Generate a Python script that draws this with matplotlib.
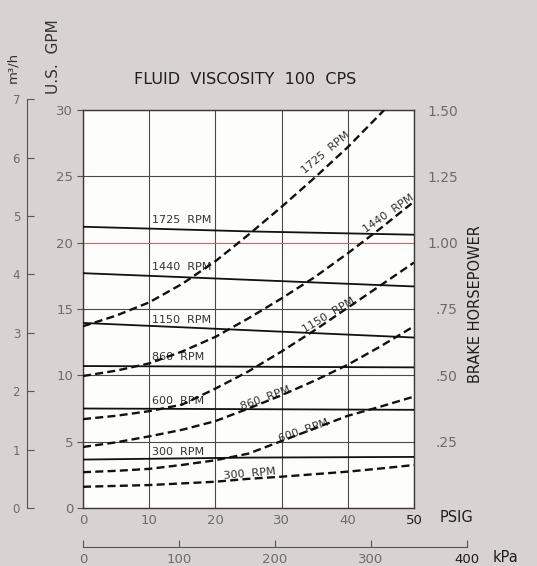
import matplotlib

matplotlib.use("Agg")
import matplotlib.pyplot as plt

GPM_PER_M3H = 4.4029
KPA_PER_PSI = 6.89476

# solid lines: capacity (U.S. GPM) vs pressure
flow_psig = [0, 25, 50]
flow_rpm = ["1725", "1440", "1150", "860", "600", "300"]
flow_1725 = [21.2, 20.85, 20.6]
flow_1440 = [17.7, 17.2, 16.7]
flow_1150 = [13.95, 13.4, 12.85]
flow_860 = [10.7, 10.65, 10.6]
flow_600 = [7.5, 7.45, 7.4]
flow_300 = [3.65, 3.8, 3.85]

# dashed lines: brake horsepower vs pressure
hp_psig = [0, 5, 10, 15, 20, 25, 30, 35, 40, 45, 50]
hp_1725_psig = [0, 5, 10, 15, 20, 25, 30, 35, 40, 45.5]
hp_1725 = [0.685, 0.725, 0.775, 0.845, 0.93, 1.03, 1.135, 1.245, 1.36, 1.50]
hp_1440 = [0.4975, 0.5175, 0.545, 0.59, 0.645, 0.715, 0.79, 0.87, 0.96, 1.055, 1.155]
hp_1150 = [0.335, 0.3475, 0.365, 0.39, 0.45, 0.515, 0.59, 0.67, 0.755, 0.84, 0.925]
hp_860 = [0.23, 0.2475, 0.27, 0.295, 0.3275, 0.375, 0.425, 0.48, 0.54, 0.61, 0.685]
hp_600 = [0.135, 0.14, 0.1475, 0.1625, 0.18, 0.205, 0.2525, 0.30, 0.3475, 0.3825, 0.42]
hp_300_psig = [0, 10, 20, 25, 30, 35, 40, 45, 50]
hp_300 = [0.08, 0.0865, 0.099, 0.11, 0.118, 0.1275, 0.137, 0.149, 0.162]

gpm_ticks = [0, 5, 10, 15, 20, 25, 30]
psig_ticks = [0, 10, 20, 30, 40, 50]
hp_ticks = [0.25, 0.50, 0.75, 1.00, 1.25, 1.50]
hp_labels = [".25", ".50", ".75", "1.00", "1.25", "1.50"]
m3h_ticks = [0, 1, 2, 3, 4, 5, 6, 7]
kpa_ticks = [0, 100, 200, 300, 400]

BG = "#d8d2d0"
INK = "#1e1e1e"
GREY = "#6c6c6c"
GRID = "#4a4a4a"

W, H = 537, 566
L, R, T, B = 83, 414, 110, 508

fig = plt.figure(figsize=(W / 100, H / 100), dpi=100, facecolor=BG)
ax = fig.add_axes([L / W, 1 - B / H, (R - L) / W, (B - T) / H])
ax.set_facecolor("#fdfdfb")
ax.set_xlim(0, 50)
ax.set_ylim(0, 30)
ax.set_xticks(psig_ticks)
ax.set_yticks(gpm_ticks)
ax.grid(True, color=GRID, lw=0.8)
ax.get_ygridlines()[4].set_color("#c46868")
for s in ax.spines.values():
    s.set_color("#3a3a3a")
    s.set_linewidth(1.0)
ax.tick_params(axis="y", direction="out", length=4, width=0.8, color="#555555",
               labelcolor=GREY, labelsize=9.5, pad=3)
ax.tick_params(axis="x", length=0, labelcolor=GREY, labelsize=9.5, pad=4)
ax.get_xticklabels()[-1].set_color(INK)

flows = [flow_1725, flow_1440, flow_1150, flow_860, flow_600, flow_300]
flow_label_y = [21.7, 18.2, 14.2, 11.35, 8.05, 4.25]
for rpm, f, ly in zip(flow_rpm, flows, flow_label_y):
    ax.plot(flow_psig, f, color="#111111", lw=1.3, zorder=3)
    ax.text(10.4, ly, f"{rpm}  RPM", fontsize=8, color="#333333", ha="left", va="center")

ax_hp = ax.twinx()
ax_hp.set_ylim(0, 1.5)
ax_hp.set_yticks(hp_ticks, hp_labels)
ax_hp.tick_params(axis="y", length=0, pad=31.5, labelsize=10, labelcolor=GREY)
for lab in ax_hp.get_yticklabels():
    lab.set_horizontalalignment("right")
for s in ax_hp.spines.values():
    s.set_visible(False)

dashed = [(hp_1725_psig, hp_1725), (hp_psig, hp_1440), (hp_psig, hp_1150),
          (hp_psig, hp_860), (hp_psig, hp_600), (hp_300_psig, hp_300)]
for xs, ys in dashed:
    ax_hp.plot(xs, ys, color="#111111", lw=1.7, dashes=(3.4, 1.8), zorder=3)

# rotated labels on the horsepower curves
hp_label_pos = [(36.7, 26.8, 40), (46.1, 22.2, 35), (37.2, 14.5, 31),
                (27.5, 8.3, 20), (33.3, 5.8, 19), (25.2, 2.55, 5)]
for rpm, (px, py, ang) in zip(flow_rpm, hp_label_pos):
    ax.text(px, py, f"{rpm}  RPM", fontsize=8, color="#333333", rotation=ang,
            rotation_mode="anchor", ha="center", va="center", zorder=4)

# m3/h scale on the far left
m3h_top = 7 * GPM_PER_M3H
ax_m = fig.add_axes([27 / W, 1 - B / H, 0.0005, (B - T) / H * m3h_top / 30])
ax_m.set_facecolor("none")
ax_m.set_ylim(0, 7)
ax_m.set_yticks(m3h_ticks)
ax_m.set_xticks([])
for k in ["top", "right", "bottom"]:
    ax_m.spines[k].set_visible(False)
ax_m.spines["left"].set_color("#555555")
ax_m.tick_params(axis="y", direction="in", length=5, width=0.8, color="#555555",
                 labelcolor=GREY, labelsize=8.5, pad=5)

# kPa scale below
kpa_w = (R - L) * 400 / (50 * KPA_PER_PSI)
ax_k = fig.add_axes([L / W, 1 - 547 / H, kpa_w / W, 0.0005])
ax_k.set_facecolor("none")
ax_k.set_xlim(0, 400)
ax_k.set_xticks(kpa_ticks)
ax_k.set_yticks([])
for k in ["top", "right", "left"]:
    ax_k.spines[k].set_visible(False)
ax_k.spines["bottom"].set_color("#555555")
ax_k.tick_params(axis="x", direction="in", length=5, width=0.8, color="#555555",
                 labelcolor=GREY, labelsize=9.5, pad=4)
ax_k.get_xticklabels()[-1].set_color(INK)

fig.text(245 / W, 1 - 80 / H, "FLUID  VISCOSITY  100  CPS", ha="center", va="center",
         fontsize=11.5, color=INK)
fig.text(53 / W, 1 - 57 / H, "U.S.  GPM", rotation=90, ha="center", va="center",
         fontsize=11, color="#333333")
fig.text(13 / W, 1 - 67 / H, "m³/h", rotation=90, ha="center", va="center",
         fontsize=9.5, color="#333333")
fig.text(476 / W, 1 - 304 / H, "BRAKE HORSEPOWER", rotation=90, ha="center",
         va="center", fontsize=10.5, color=INK)
fig.text(440 / W, 1 - 518 / H, "PSIG", ha="left", va="center", fontsize=10.5, color=INK)
fig.text(493 / W, 1 - 557 / H, "kPa", ha="left", va="center", fontsize=10.5, color=INK)

fig.savefig("out.png", dpi=100, facecolor=BG)
